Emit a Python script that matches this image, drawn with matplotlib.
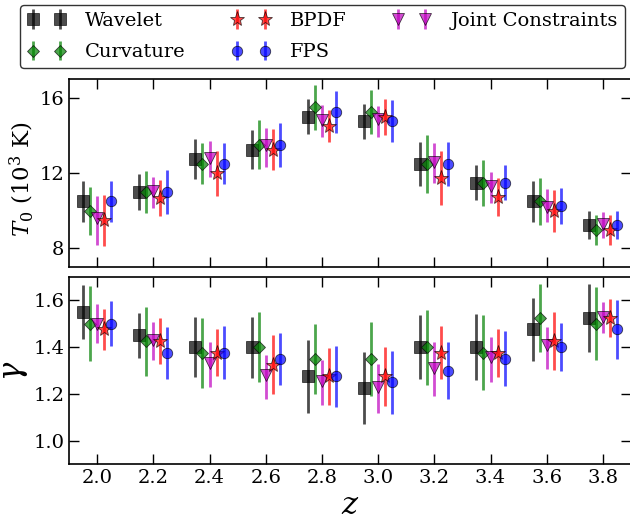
import matplotlib
matplotlib.use("Agg")
import matplotlib.pyplot as plt
import numpy as np

plt.rcParams['font.family'] = ['DejaVu Serif']
plt.rcParams['mathtext.fontset'] = 'dejavuserif'

z = [2.0, 2.2, 2.4, 2.6, 2.8, 3.0, 3.2, 3.4, 3.6, 3.8]
xticks = [2.0, 2.2, 2.4, 2.6, 2.8, 3.0, 3.2, 3.4, 3.6, 3.8]

# T0 (10^3 K)
t0_wavelet = [10.5, 11.0, 12.75, 13.25, 15.0, 14.75, 12.5, 11.5, 10.5, 9.25]
t0_wavelet_err = [1.1, 0.95, 1.07, 1.05, 0.92, 0.93, 1.16, 0.95, 1.1, 0.75]
t0_curv = [10.0, 11.0, 12.5, 13.5, 15.5, 15.25, 12.5, 11.5, 10.5, 9.0]
t0_curv_err = [1.28, 1.13, 1.1, 1.3, 1.2, 1.16, 1.55, 1.22, 1.23, 0.8]
t0_bpdf = [9.5, 10.7, 12.0, 13.25, 14.5, 15.0, 11.75, 10.75, 10.0, 9.0]
t0_bpdf_err = [1.35, 0.95, 1.2, 1.1, 0.85, 0.95, 1.44, 1.0, 1.13, 0.8]
t0_fps = [10.5, 11.0, 12.5, 13.5, 15.25, 14.75, 12.5, 11.5, 10.25, 9.25]
t0_fps_err = [1.1, 1.15, 1.1, 1.15, 1.1, 1.12, 1.16, 0.92, 0.94, 0.75]
t0_joint = [9.6, 11.05, 12.8, 13.5, 14.8, 14.85, 12.6, 11.3, 10.2, 9.3]
t0_joint_lo = [1.39, 0.92, 1.03, 1.18, 0.9, 0.93, 1.13, 0.9, 0.8, 0.77]
t0_joint_hi = [1.17, 0.77, 0.92, 0.9, 0.8, 0.74, 1.0, 0.78, 0.95, 0.65]

# gamma
g_wavelet = [1.55, 1.45, 1.4, 1.4, 1.275, 1.225, 1.4, 1.4, 1.475, 1.525]
g_wavelet_err = [0.115, 0.097, 0.127, 0.13, 0.157, 0.155, 0.138, 0.14, 0.133, 0.145]
g_curv = [1.5, 1.425, 1.375, 1.4, 1.35, 1.35, 1.4, 1.375, 1.525, 1.5]
g_curv_err = [0.16, 0.147, 0.149, 0.15, 0.149, 0.158, 0.16, 0.16, 0.145, 0.155]
g_bpdf = [1.475, 1.425, 1.375, 1.325, 1.275, 1.275, 1.375, 1.375, 1.425, 1.525]
g_bpdf_err = [0.087, 0.097, 0.1, 0.126, 0.122, 0.126, 0.113, 0.103, 0.123, 0.082]
g_fps = [1.5, 1.375, 1.375, 1.35, 1.275, 1.25, 1.3, 1.35, 1.4, 1.475]
g_fps_err = [0.095, 0.11, 0.113, 0.11, 0.13, 0.135, 0.12, 0.118, 0.103, 0.126]
g_joint = [1.5, 1.43, 1.33, 1.28, 1.255, 1.23, 1.31, 1.356, 1.41, 1.53]
g_joint_lo = [0.084, 0.085, 0.1, 0.1, 0.1, 0.113, 0.117, 0.104, 0.104, 0.072]
g_joint_hi = [0.082, 0.075, 0.09, 0.086, 0.09, 0.097, 0.113, 0.088, 0.076, 0.06]

zarr = np.array(z)

fig = plt.figure(figsize=(6.3, 5.2), dpi=100)
ax1 = fig.add_axes([69/630, (520-267.3)/520, 562/630, (267.3-79)/520])
ax2 = fig.add_axes([69/630, (520-464.3)/520, 562/630, (464.3-276.7)/520])

specs = [
    # name, offset, marker, color, ms
    ('Wavelet', -0.05, 's', 'k', 8),
    ('Curvature', -0.025, 'D', 'g', 6.5),
    ('Joint Constraints', 0.0, 'v', 'm', 9),
    ('BPDF', 0.025, '*', 'r', 11),
    ('FPS', 0.05, 'o', 'b', 7.5),
]

top_data = {
    'Wavelet': (t0_wavelet, t0_wavelet_err),
    'Curvature': (t0_curv, t0_curv_err),
    'Joint Constraints': (t0_joint, [t0_joint_lo, t0_joint_hi]),
    'BPDF': (t0_bpdf, t0_bpdf_err),
    'FPS': (t0_fps, t0_fps_err),
}
bot_data = {
    'Wavelet': (g_wavelet, g_wavelet_err),
    'Curvature': (g_curv, g_curv_err),
    'Joint Constraints': (g_joint, [g_joint_lo, g_joint_hi]),
    'BPDF': (g_bpdf, g_bpdf_err),
    'FPS': (g_fps, g_fps_err),
}

handles = {}
for ax, data in [(ax1, top_data), (ax2, bot_data)]:
    for name, off, mk, col, ms in specs:
        y, e = data[name]
        h = ax.errorbar(zarr + off, y, yerr=e, fmt=mk, color=col, ms=ms,
                        mec='k' if name != 'Wavelet' else col, mew=0.6,
                        elinewidth=2, capsize=0, alpha=0.7, label=name)
        if ax is ax1:
            handles[name] = h

for ax in (ax1, ax2):
    ax.set_xlim(1.9, 3.9)
    ax.set_xticks(xticks)
    ax.tick_params(direction='in', top=True, right=True, length=7, width=1,
                   labelsize=14)
    for s in ax.spines.values():
        s.set_linewidth(1.2)

ax1.set_ylim(7, 17)
ax1.set_yticks([8, 12, 16])
ax1.tick_params(labelbottom=False)
ax1.set_ylabel(r'$T_0\ (10^3\ \mathrm{K})$', fontsize=16.5)
ax1.yaxis.set_label_coords(-0.058, 0.47)

ax2.set_ylim(0.9, 1.7)
ax2.set_yticks([1.0, 1.2, 1.4, 1.6])
ax2.set_yticklabels(['1.0', '1.2', '1.4', '1.6'])
ax2.set_xticklabels(['%.1f' % v for v in xticks])
ax2.set_ylabel(r'$\gamma$', fontsize=22)
ax2.yaxis.set_label_coords(-0.07, 0.5)
ax2.set_xlabel(r'$z$', fontsize=22, labelpad=2)

order = ['Wavelet', 'Curvature', 'BPDF', 'FPS', 'Joint Constraints']
leg = fig.legend([handles[n] for n in order], order, ncol=3, numpoints=2,
                 loc='upper left', bbox_to_anchor=(20/630, 1 - 5/520),
                 borderaxespad=0.0,
                 fontsize=14, frameon=True, fancybox=True,
                 handlelength=2.0, handletextpad=1.0, columnspacing=2.35,
                 borderpad=0.35, labelspacing=0.7)
leg.get_frame().set_edgecolor('k')
leg.get_frame().set_linewidth(1.0)

fig.savefig('out.png', dpi=100)
